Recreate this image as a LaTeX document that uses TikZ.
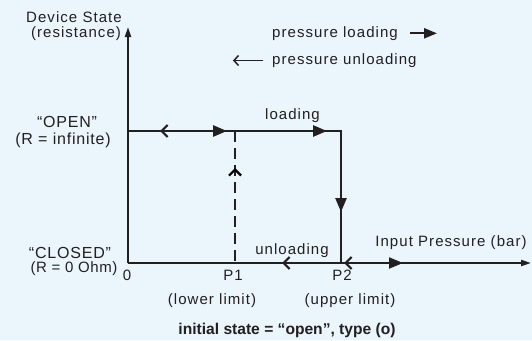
\documentclass[tikz,border=0pt]{standalone}
\usepackage{fontspec}
\setmainfont{Liberation Sans}
\newfontfamily\lbl[LetterSpace=7]{Liberation Sans}
\newfontfamily\lblw[LetterSpace=5]{Liberation Sans}
\newfontfamily\lblt[LetterSpace=3.5]{Liberation Sans}
\usetikzlibrary{arrows.meta,decorations.markings}
\definecolor{ink}{HTML}{231F20}
\definecolor{bgc}{HTML}{EAF5FC}
\tikzset{
  lab/.style={font=\lbl\fontsize{15}{17}\selectfont, text=ink, inner sep=0pt, anchor=base},
  bigl/.style={font=\lblw\fontsize{16}{18}\selectfont, text=ink, inner sep=0pt, anchor=base},
  tightl/.style={font=\lblt\fontsize{15}{17}\selectfont, text=ink, inner sep=0pt, anchor=base},
  capl/.style={font=\bfseries\fontsize{15.6}{18}\selectfont, text=ink, inner sep=0pt, anchor=base},
  axisl/.style={draw=ink, line width=1.9pt},
  pathl/.style={draw=ink, line width=2.6pt, line join=miter},
  tri/.tip={Triangle[length=14pt,width=11pt]},
  barb/.tip={Straight Barb[length=6pt,width=12pt,line width=2.2pt]},
  axtip/.tip={Triangle[length=10pt,width=6pt]},
}
\begin{document}
\begin{tikzpicture}[x=1pt,y=-1pt]
\path[use as bounding box, fill=bgc] (0,0) rectangle (532,340);
% key points
\coordinate (O) at (128,263);
\coordinate (Yt) at (128,27);
\coordinate (Xe) at (531,263);
\coordinate (A) at (128,131);
\coordinate (B) at (341,131);
\coordinate (C) at (341,263);
\coordinate (Pt) at (235,131);
\coordinate (Pb) at (235,263);
% labels
\node[lab] (ds) at (74,22) {Device State};
\node[lab] (res) at (76,37) {(resistance)};
\node[lab, anchor=base west] (pl) at (272,37) {pressure loading};
\node[lab, anchor=base west] (pu) at (272,64) {pressure unloading};
\node[lab] (ld) at (292.5,119) {loading};
\node[bigl] (open) at (67,127) {“OPEN”};
\node[bigl] (rinf) at (63,144) {(R = infinite)};
\node[bigl] (closed) at (70,258) {“CLOSED”};
\node[tightl] (r0) at (74,272.5) {(R = 0 Ohm)};
\node[lab] (zero) at (127,280) {0};
\node[lab] (p1) at (233,280) {P1};
\node[lab] (p2) at (342,280) {P2};
\node[lab] (ll) at (212,304) {(lower limit)};
\node[lab] (ul) at (350,304) {(upper limit)};
\node[lab] (unl) at (292,254) {unloading};
\node[lab] (inp) at (451,246) {Input Pressure (bar)};
\node[capl] (capt) at (287,334) {initial state = “open”, type (o)};
% legend arrows
\coordinate (la1) at (410,33.3);
\coordinate (la2) at (437,33.3);
\coordinate (lu1) at (263,60.5);
\coordinate (lu2) at (233,60.5);
\draw[draw=ink, line width=2.2pt, -{Triangle[length=13pt,width=10pt]}] (la1) -- (la2);
\draw[draw=ink, line width=1.5pt, -{Straight Barb[length=4.5pt,width=10pt,line width=1.5pt]}] (lu1) -- (lu2);
% axes
\draw[axisl, -axtip] (O) -- (Yt);
\draw[axisl, -axtip, postaction={decorate}, color=ink,
  decoration={markings,
    mark=at position 154pt with {\arrowreversed{barb}},
    mark=at position 216pt with {\arrowreversed{barb}},
    mark=at position 275pt with {\arrow{tri}}}] (O) -- (Xe);
% hysteresis path
\draw[pathl, color=ink, postaction={decorate},
  decoration={markings,
    mark=at position 32pt with {\arrowreversed{barb}},
    mark=at position 99pt with {\arrow{tri}},
    mark=at position 199pt with {\arrow{tri}},
    mark=at position 294pt with {\arrow{tri}}}] (A) -- (B) -- (C);
% dashed P1 line
\draw[draw=ink, line width=2.3pt, dash pattern=on 11pt off 6pt] (Pt) -- (Pb);
\path[color=ink, decorate,
  decoration={markings, mark=at position 95pt with {\arrow{barb}}}] (Pb) -- (Pt);
\end{tikzpicture}
\end{document}
